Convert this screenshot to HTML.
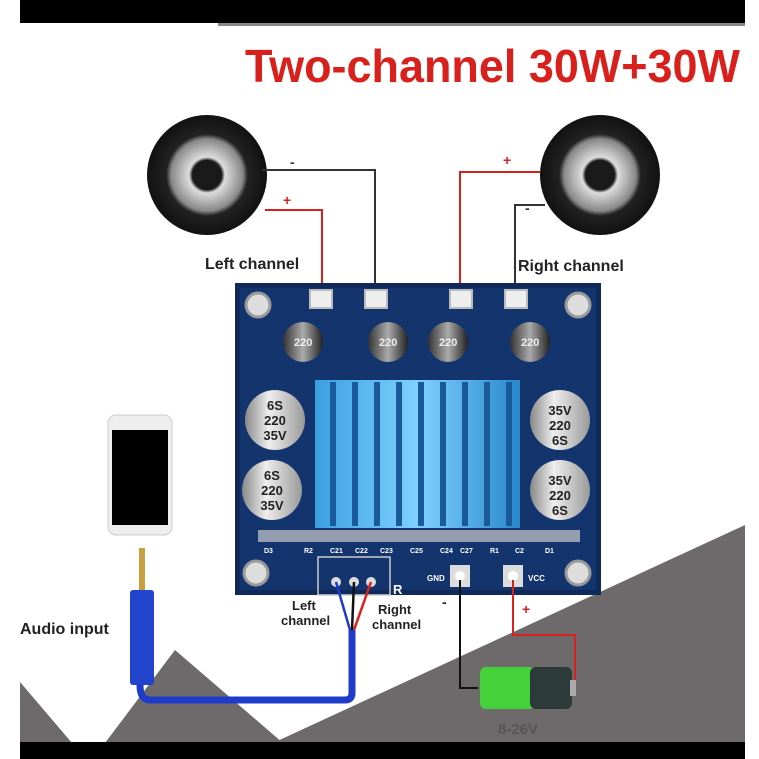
<!DOCTYPE html>
<html><head><meta charset="utf-8"><style>
html,body{margin:0;padding:0;background:#fff}
svg{display:block}
text{font-family:"Liberation Sans",sans-serif;font-weight:bold}
</style></head><body>
<svg width="759" height="759" viewBox="0 0 759 759" xmlns="http://www.w3.org/2000/svg">
<defs>
<radialGradient id="spk" cx="50%" cy="50%" r="50%">
<stop offset="0" stop-color="#222"/><stop offset="0.25" stop-color="#333"/><stop offset="0.3" stop-color="#ddd"/><stop offset="0.6" stop-color="#888"/><stop offset="0.68" stop-color="#222"/><stop offset="1" stop-color="#111"/>
</radialGradient>
<linearGradient id="hs" x1="0" x2="1"><stop offset="0" stop-color="#3aa0e0"/><stop offset="0.5" stop-color="#7fd0ff"/><stop offset="1" stop-color="#2a88cc"/></linearGradient>
<linearGradient id="cap" x1="0" x2="1"><stop offset="0" stop-color="#888"/><stop offset="0.4" stop-color="#eee"/><stop offset="1" stop-color="#999"/></linearGradient>
<linearGradient id="ind" x1="0" x2="1"><stop offset="0" stop-color="#333"/><stop offset="0.5" stop-color="#aaa"/><stop offset="1" stop-color="#222"/></linearGradient>
</defs>
<rect width="759" height="759" fill="#fff"/>
<rect x="20" y="0" width="725" height="23" fill="#000"/>
<rect x="218" y="23" width="527" height="3" fill="#888"/>
<polygon points="745,525 745,743 273,743" fill="#6e6a6b"/>
<polygon points="175,650 283,743 105,743" fill="#6e6a6b"/>
<polygon points="20,682 72,743 20,743" fill="#6e6a6b"/>
<rect x="20" y="742" width="725" height="17" fill="#000"/>
<text x="245" y="82" font-size="46" fill="#d8201c" textLength="495" lengthAdjust="spacingAndGlyphs" transform="translate(0,0)">Two-channel 30W+30W</text>
<circle cx="207" cy="175" r="60" fill="url(#spk)"/>
<circle cx="207" cy="175" r="15" fill="#1a1a1a"/>
<circle cx="600" cy="175" r="60" fill="url(#spk)"/>
<circle cx="600" cy="175" r="15" fill="#1a1a1a"/>
<g fill="none" stroke-width="2">
<polyline points="265,210 322,210 322,300" stroke="#d8201c"/>
<polyline points="262,170 375,170 375,300" stroke="#333"/>
<polyline points="540,172 460,172 460,300" stroke="#d8201c"/>
<polyline points="545,205 515,205 515,300" stroke="#333"/>
</g>
<text x="283" y="205" font-size="14" fill="#d8201c">+</text>
<text x="290" y="167" font-size="14" fill="#333">-</text>
<text x="503" y="165" font-size="14" fill="#d8201c">+</text>
<text x="525" y="213" font-size="14" fill="#333">-</text>
<text x="205" y="269" font-size="16" fill="#222">Left channel</text>
<text x="518" y="271" font-size="16" fill="#222">Right channel</text>
<rect x="235" y="283" width="366" height="312" fill="#0f2a5a"/>
<rect x="240" y="288" width="356" height="302" fill="#14346e"/>
<g fill="#ddd" stroke="#999" stroke-width="3">
<circle cx="258" cy="305" r="12"/><circle cx="578" cy="305" r="12"/>
<circle cx="256" cy="573" r="12"/><circle cx="578" cy="573" r="12"/>
</g>
<g fill="#eee" stroke="#bbb" stroke-width="2">
<rect x="310" y="290" width="22" height="18"/><rect x="365" y="290" width="22" height="18"/>
<rect x="450" y="290" width="22" height="18"/><rect x="505" y="290" width="22" height="18"/>
</g>
<g fill="url(#ind)">
<circle cx="303" cy="342" r="20"/><circle cx="388" cy="342" r="20"/><circle cx="448" cy="342" r="20"/><circle cx="530" cy="342" r="20"/>
</g>
<g font-size="11" fill="#eee"><text x="294" y="346">220</text><text x="379" y="346">220</text><text x="439" y="346">220</text><text x="521" y="346">220</text></g>
<rect x="315" y="380" width="205" height="148" fill="url(#hs)"/>
<g fill="#1a5a9a">
<rect x="330" y="382" width="6" height="144"/><rect x="352" y="382" width="6" height="144"/><rect x="374" y="382" width="6" height="144"/><rect x="396" y="382" width="6" height="144"/><rect x="418" y="382" width="6" height="144"/><rect x="440" y="382" width="6" height="144"/><rect x="462" y="382" width="6" height="144"/><rect x="484" y="382" width="6" height="144"/><rect x="506" y="382" width="6" height="144"/>
</g>
<g fill="url(#cap)">
<circle cx="275" cy="420" r="30"/><circle cx="272" cy="490" r="30"/>
<circle cx="560" cy="420" r="30"/><circle cx="560" cy="490" r="30"/>
</g>
<g font-size="13" fill="#222" text-anchor="middle">
<text x="275" y="410">6S</text><text x="275" y="425">220</text><text x="275" y="440">35V</text>
<text x="272" y="480">6S</text><text x="272" y="495">220</text><text x="272" y="510">35V</text>
<text x="560" y="415">35V</text><text x="560" y="430">220</text><text x="560" y="445">6S</text>
<text x="560" y="485">35V</text><text x="560" y="500">220</text><text x="560" y="515">6S</text>
</g>
<rect x="258" y="530" width="322" height="12" fill="#ccc" opacity="0.7"/>
<g fill="#fff" font-size="7"><text x="264" y="553">D3</text><text x="304" y="553">R2</text><text x="330" y="553">C21</text><text x="355" y="553">C22</text><text x="380" y="553">C23</text><text x="410" y="553">C25</text><text x="440" y="553">C24</text><text x="460" y="553">C27</text><text x="490" y="553">R1</text><text x="515" y="553">C2</text><text x="545" y="553">D1</text></g>
<rect x="318" y="557" width="72" height="38" fill="none" stroke="#ccc" stroke-width="1.5"/>
<circle cx="336" cy="582" r="5" fill="#ddd"/><circle cx="354" cy="582" r="5" fill="#ddd"/><circle cx="371" cy="582" r="5" fill="#ddd"/>
<rect x="450" y="565" width="20" height="22" fill="#ddd"/><circle cx="460" cy="576" r="5" fill="#fff"/>
<rect x="503" y="565" width="20" height="22" fill="#ddd"/><circle cx="513" cy="576" r="5" fill="#fff"/>
<g font-size="8" fill="#fff"><text x="427" y="581">GND</text><text x="528" y="581">VCC</text><text x="393" y="594" font-size="13">R</text></g>
<g fill="none" stroke-width="2.5">
<path d="M336,582 L350,630" stroke="#1e3cc8"/><path d="M354,582 L352,630" stroke="#111"/><path d="M371,582 L354,630" stroke="#d8201c"/>
</g>
<path d="M352,630 L352,693 Q352,700 345,700 L150,700 Q140,700 140,685" fill="none" stroke="#1e3cc8" stroke-width="7"/>
<text x="292" y="610" font-size="13" fill="#222">Left</text>
<text x="281" y="625" font-size="13" fill="#222">channel</text>
<text x="378" y="614" font-size="13" fill="#222">Right</text>
<text x="372" y="629" font-size="13" fill="#222">channel</text>
<text x="442" y="607" font-size="14" fill="#222">-</text>
<text x="522" y="614" font-size="14" fill="#d8201c">+</text>
<polyline points="460,580 460,688 478,688" fill="none" stroke="#111" stroke-width="2"/>
<polyline points="513,580 513,635 575,635 575,685" fill="none" stroke="#d8201c" stroke-width="2"/>
<rect x="480" y="667" width="55" height="42" rx="6" fill="#44d23a"/>
<rect x="530" y="667" width="42" height="42" rx="6" fill="#2c3a3a"/>
<rect x="570" y="680" width="6" height="16" fill="#aaa"/>
<text x="498" y="734" font-size="15" fill="#555">8-26V</text>
<rect x="108" y="415" width="64" height="120" rx="8" fill="#eee" stroke="#ccc"/>
<rect x="112" y="430" width="56" height="95" fill="#000"/>
<rect x="139" y="548" width="6" height="42" fill="#c8a040"/>
<rect x="130" y="590" width="24" height="95" rx="3" fill="#2244cc"/>
<text x="20" y="634" font-size="16" fill="#222">Audio input</text>
</svg>
</body></html>
